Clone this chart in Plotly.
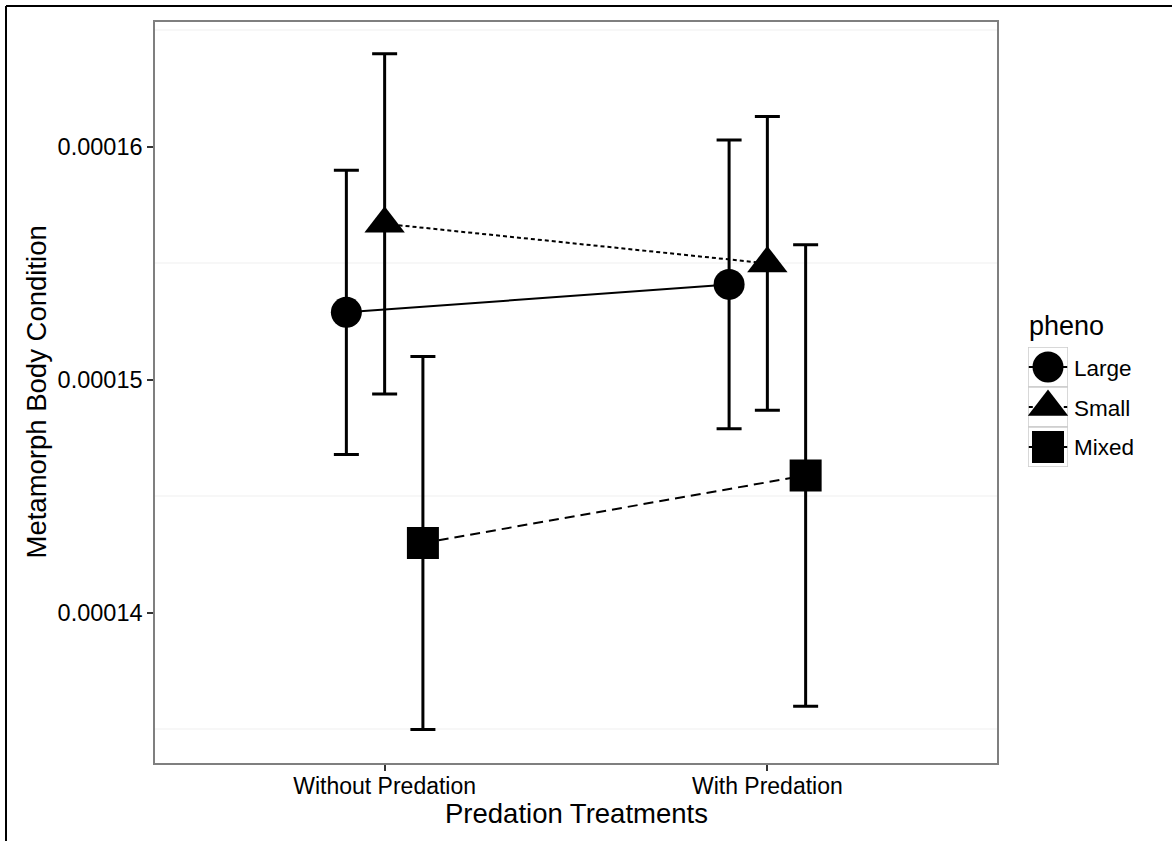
import plotly.graph_objects as go

# Treatment groups (x categories) and phenotype series
treatments = ["Without Predation", "With Predation"]
phenos = ["Large", "Small", "Mixed"]

# Mean metamorph body condition per treatment
mean_large = [0.0001529, 0.0001541]
mean_small = [0.0001567, 0.0001550]
mean_mixed = [0.0001430, 0.0001459]

# Error bar half-widths
err_large = [0.0000061, 0.0000062]
err_small = [0.0000073, 0.0000063]
err_mixed = [0.0000080, 0.0000099]

y_tick_vals = [0.00014, 0.00015, 0.00016]
y_tick_text = ["0.00014", "0.00015", "0.00016"]
y_minor_grid = [0.000135, 0.000145, 0.000155, 0.000165]

means = {"Large": mean_large, "Small": mean_small, "Mixed": mean_mixed}
errs = {"Large": err_large, "Small": err_small, "Mixed": err_mixed}

# Styling and dodge per phenotype
style = {
    "Large": dict(symbol="circle", size=31, dash="solid"),
    "Small": dict(symbol="triangle-up", size=35, dash="4px,3px"),
    "Mixed": dict(symbol="square", size=32, dash="10px,6px"),
}
dodge = {"Large": -0.1, "Small": 0.0, "Mixed": 0.1}

FONT = "Liberation Sans, Arial, Helvetica, sans-serif"
W, H = 1172, 841
ML, MR, MT, MB = 155, 0, 22, 78
PANEL_RIGHT = 997
PW = W - ML - MR
PH = H - MT - MB


def px_x(px):
    return (px - ML) / PW


def px_y(py):
    return (H - MB - py) / PH


fig = go.Figure()

for name in phenos:
    st = style[name]
    xs = [i + 1 + dodge[name] for i in range(len(treatments))]
    fig.add_trace(go.Scatter(
        x=xs, y=means[name], mode="lines+markers", name=name,
        line=dict(color="black", width=2, dash=st["dash"]),
        marker=dict(symbol=st["symbol"], size=st["size"], color="black",
                    line=dict(width=0)),
        error_y=dict(type="data", array=errs[name], color="black",
                     thickness=3, width=12.5),
        showlegend=False, xaxis="x", yaxis="y",
    ))

# Legend drawn on a small helper axis pair
legend_label_y = [368, 408, 447]
for i, name in enumerate(phenos):
    st = style[name]
    fig.add_shape(type="rect", xref="x2", yref="y2", x0=0, x1=1, y0=i, y1=i + 1,
                  line=dict(color="#cccccc", width=1.5), fillcolor="white", layer="below")
    fig.add_trace(go.Scatter(
        x=[0.02, 0.98], y=[i + 0.5, i + 0.5], mode="lines",
        line=dict(color="black", width=2, dash=st["dash"]),
        showlegend=False, hoverinfo="skip", xaxis="x2", yaxis="y2",
    ))
    fig.add_trace(go.Scatter(
        x=[0.5], y=[i + 0.5], mode="markers",
        marker=dict(symbol=st["symbol"], size=st["size"], color="black",
                    line=dict(width=0)),
        showlegend=False, hoverinfo="skip", xaxis="x2", yaxis="y2",
    ))
    fig.add_annotation(x=px_x(1072), y=px_y(legend_label_y[i]), xref="paper", yref="paper",
                       text=name, showarrow=False, xanchor="left", yanchor="middle",
                       font=dict(family=FONT, size=22.5, color="black"))

fig.add_annotation(x=px_x(1027), y=px_y(326), xref="paper", yref="paper", text="pheno",
                   showarrow=False, xanchor="left", yanchor="middle",
                   font=dict(family=FONT, size=27, color="black"))

# Axis titles
fig.add_annotation(x=px_x(576), y=px_y(813), xref="paper", yref="paper",
                   text="Predation Treatments", showarrow=False,
                   xanchor="center", yanchor="middle",
                   font=dict(family=FONT, size=27.5, color="black"))
fig.add_annotation(x=px_x(36), y=0.5, xref="paper", yref="paper",
                   text="Metamorph Body Condition", showarrow=False, textangle=-90,
                   xanchor="center", yanchor="middle",
                   font=dict(family=FONT, size=27.5, color="black"))

# Outer frame lines
fig.add_shape(type="line", xref="paper", yref="paper", x0=px_x(6), x1=px_x(W),
              y0=px_y(6), y1=px_y(6), line=dict(color="black", width=2))
fig.add_shape(type="line", xref="paper", yref="paper", x0=px_x(6), x1=px_x(6),
              y0=px_y(6), y1=px_y(H), line=dict(color="black", width=2))

fig.update_layout(
    width=W, height=H,
    margin=dict(l=ML, r=MR, t=MT, b=MB),
    paper_bgcolor="white", plot_bgcolor="white",
    font=dict(family=FONT, color="black"),
    showlegend=False,
    xaxis=dict(
        domain=[0, px_x(PANEL_RIGHT)], range=[0.4, 2.6],
        tickmode="array", tickvals=[1, 2], ticktext=treatments,
        showgrid=False, zeroline=False,
        showline=True, mirror=True, linecolor="#7f7f7f", linewidth=1.5,
        ticks="outside", ticklen=6, tickwidth=1.5, tickcolor="#333333",
        tickfont=dict(family=FONT, size=23, color="black"),
        ticklabelstandoff=-4,
        anchor="y",
    ),
    yaxis=dict(
        range=[0.00013356, 0.00016536],
        tickmode="array", tickvals=y_tick_vals, ticktext=y_tick_text,
        showgrid=False, zeroline=False,
        minor=dict(tickmode="array", tickvals=y_minor_grid, showgrid=True,
                   gridcolor="#f7f7f7", gridwidth=1.5, ticks=""),
        showline=True, mirror=True, linecolor="#7f7f7f", linewidth=1.5,
        ticks="outside", ticklen=6, tickwidth=1.5, tickcolor="#333333",
        tickfont=dict(family=FONT, size=23.5, color="black"),
        anchor="x",
    ),
    xaxis2=dict(domain=[px_x(1028), px_x(1068)], range=[0, 1], visible=False,
                anchor="y2", fixedrange=True),
    yaxis2=dict(domain=[px_y(467), px_y(347)], range=[3, 0], visible=False,
                anchor="x2", fixedrange=True),
)

fig.write_html("out.html")
